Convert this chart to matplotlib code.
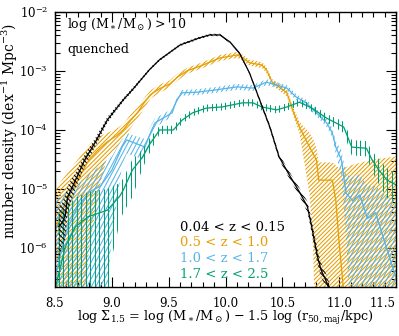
import numpy as np
import matplotlib
matplotlib.use('Agg')
import matplotlib.pyplot as plt
from matplotlib.collections import LineCollection
from matplotlib.ticker import LogLocator, NullFormatter, MultipleLocator

plt.rcParams['font.family'] = ['DejaVu Serif']
plt.rcParams['mathtext.fontset'] = 'dejavuserif'

# ---------------- data (log10 number density) ----------------
labels = ['0.04 < z < 0.15', '0.5 < z < 1.0', '1.0 < z < 1.7', '1.7 < z < 2.5']
colors = ['black', '#E69F00', '#56B4E9', '#009E73']
xtick_vals = [8.5, 9.0, 9.5, 10.0, 10.5, 11.0, 11.5]
xtick_labels = ['8.5', '9.0', '9.5', '10.0', '10.5', '11.0', '11.5']

# 0.04 < z < 0.15
x_k = [8.53, 8.56, 8.59, 8.61, 8.68, 8.76, 8.85, 8.96, 9.10, 9.18, 9.33, 9.42, 9.60, 9.77,
       9.86, 9.95, 10.04, 10.12, 10.21, 10.30, 10.39, 10.47, 10.56, 10.65, 10.72, 10.75,
       10.78, 10.81, 10.84, 10.89, 10.92]
c_k = [-5.64, -5.58, -5.45, -5.14, -4.85, -4.51, -4.22, -3.83, -3.49, -3.32, -2.98, -2.81, -2.56, -2.44,
       -2.39, -2.39, -2.51, -2.69, -3.03, -3.49, -3.95, -4.45, -4.76, -5.05, -5.30, -5.56,
       -5.86, -6.15, -6.37, -6.58, -6.75]
hi_k = [-5.30, -5.25, -5.10, -4.95, -4.72, -4.42, -4.15, -3.78, -3.46, -3.29, -2.96, -2.79, -2.54, -2.42,
        -2.37, -2.37, -2.49, -2.67, -3.01, -3.46, -3.91, -4.40, -4.70, -4.98, -5.21, -5.45,
        -5.74, -6.02, -6.25, -6.46, -6.63]
lo_k = [-6.20, -6.00, -5.85, -5.40, -5.00, -4.62, -4.30, -3.88, -3.52, -3.35, -3.00, -2.83, -2.58, -2.46,
        -2.41, -2.41, -2.53, -2.71, -3.05, -3.52, -3.99, -4.50, -4.82, -5.12, -5.39, -5.67,
        -5.98, -6.28, -6.49, -6.70, -6.87]

# 0.5 < z < 1.0
x_o = [8.50, 8.60, 8.70, 8.80, 8.90, 8.96, 9.04, 9.10, 9.16, 9.22, 9.28, 9.34, 9.42, 9.51, 9.58,
       9.66, 9.80, 9.95, 10.10, 10.14, 10.21, 10.32, 10.36, 10.41, 10.47, 10.54, 10.59, 10.65,
       10.74, 10.77, 10.80, 10.82, 10.94, 10.97, 11.00, 11.03, 11.10, 11.30, 11.50]
c_o = [-5.70, -5.20, -4.85, -4.50, -4.30, -4.20, -4.10, -4.00, -3.85, -3.72, -3.55, -3.40, -3.30, -3.22, -3.10,
       -3.00, -2.90, -2.78, -2.73, -2.76, -2.86, -2.90, -2.98, -3.19, -3.27, -3.37, -3.66, -3.95,
       -4.29, -4.40, -4.51, -4.85, -4.85, -5.19, -5.92, -6.54, -8.0, -8.0, -8.0]
hi_o = [-5.00, -4.75, -4.50, -4.25, -4.10, -4.05, -3.98, -3.90, -3.75, -3.63, -3.47, -3.33, -3.23, -3.16, -3.04,
        -2.95, -2.85, -2.73, -2.68, -2.71, -2.81, -2.85, -2.93, -3.14, -3.21, -3.31, -3.59, -3.86,
        -4.05, -4.15, -4.30, -4.55, -4.55, -4.60, -4.65, -4.65, -4.60, -4.50, -4.45]
lo_o = [-8.0, -8.0, -8.0, -6.00, -4.90, -4.45, -4.30, -4.15, -3.98, -3.82, -3.65, -3.47, -3.37, -3.28, -3.16,
        -3.05, -2.95, -2.83, -2.78, -2.81, -2.91, -2.95, -3.03, -3.24, -3.33, -3.43, -3.73, -4.05,
        -5.10, -6.00, -8.0, -8.0, -8.0, -8.0, -8.0, -8.0, -8.0, -8.0, -8.0]

# 1.0 < z < 1.7
x_b = [8.50, 8.60, 8.70, 8.80, 8.90, 9.00, 9.09, 9.13, 9.20, 9.29, 9.35, 9.38, 9.44, 9.53, 9.57,
       9.62, 9.75, 9.92, 10.10, 10.24, 10.36, 10.45, 10.54, 10.62, 10.71, 10.80, 10.89, 10.94,
       10.97, 11.02, 11.06, 11.12, 11.18, 11.25, 11.32, 11.40, 11.50]
c_b = [-6.50, -5.70, -5.30, -5.05, -4.95, -4.68, -4.29, -4.17, -4.22, -4.29, -4.00, -3.88, -3.81, -3.71, -3.49,
       -3.37, -3.36, -3.32, -3.27, -3.29, -3.19, -3.24, -3.29, -3.44, -3.54, -3.71, -3.88, -4.05,
       -4.29, -4.51, -5.07, -5.20, -5.10, -5.50, -5.40, -5.90, -6.50]
hi_b = [-5.20, -5.05, -4.92, -4.75, -4.60, -4.45, -4.15, -4.05, -4.10, -4.15, -3.90, -3.80, -3.74, -3.64, -3.43,
        -3.32, -3.31, -3.27, -3.22, -3.24, -3.14, -3.19, -3.24, -3.39, -3.49, -3.65, -3.81, -3.97,
        -4.19, -4.35, -4.75, -4.80, -4.75, -4.95, -4.95, -5.10, -5.20]
lo_b = [-8.0, -8.0, -8.0, -8.0, -8.0, -5.80, -4.60, -4.40, -4.45, -4.50, -4.15, -3.96, -3.88, -3.78, -3.55,
        -3.42, -3.41, -3.37, -3.32, -3.34, -3.24, -3.29, -3.34, -3.49, -3.59, -3.77, -3.95, -4.13,
        -4.40, -4.80, -5.80, -8.0, -6.50, -8.0, -8.0, -8.0, -8.0]

# 1.7 < z < 2.5
x_g = [8.50, 8.59, 8.68, 8.79, 8.96, 9.01, 9.07, 9.10, 9.18, 9.27, 9.33, 9.42, 9.54, 9.62, 9.71,
       9.83, 9.97, 10.15, 10.24, 10.32, 10.45, 10.54, 10.65, 10.76, 10.89, 11.04, 11.11, 11.24,
       11.29, 11.35, 11.42, 11.50]
c_g = [-6.70, -5.98, -5.64, -5.47, -5.36, -5.25, -5.12, -5.02, -4.68, -4.46, -4.25, -4.00, -4.00, -3.83, -3.71,
       -3.63, -3.61, -3.54, -3.54, -3.61, -3.66, -3.61, -3.53, -3.63, -3.80, -3.95, -4.29, -4.31,
       -4.51, -4.68, -4.85, -4.93]
hi_g = [-5.55, -5.30, -5.15, -5.05, -5.00, -4.95, -4.90, -4.82, -4.50, -4.33, -4.15, -3.93, -3.93, -3.77, -3.65,
        -3.57, -3.55, -3.48, -3.48, -3.55, -3.60, -3.55, -3.47, -3.57, -3.73, -3.86, -4.17, -4.19,
        -4.36, -4.50, -4.65, -4.73]
lo_g = [-8.0, -8.0, -8.0, -8.0, -8.0, -6.07, -5.56, -5.40, -5.14, -4.65, -4.40, -4.07, -4.07, -3.89, -3.77,
        -3.69, -3.67, -3.60, -3.60, -3.67, -3.72, -3.67, -3.59, -3.69, -3.87, -4.05, -4.43, -4.45,
        -4.70, -4.92, -5.15, -5.25]

# ---------------- figure ----------------
W_IN, H_IN, DPI = 3.99, 3.36, 100
AX_POS = [0.138, 0.146, 0.8545, 0.8185]
fig = plt.figure(figsize=(W_IN, H_IN), dpi=DPI)
ax = fig.add_axes(AX_POS)
ax.set_yscale('log')

AX_W = W_IN * DPI * AX_POS[2]
AX_H = H_IN * DPI * AX_POS[3]


def hatch_band(x, lo, hi, color, angle, spacing, lw=0.75):
    band = ax.fill_between(np.asarray(x), 10.0 ** np.asarray(lo), 10.0 ** np.asarray(hi),
                           facecolor='none', edgecolor='none', linewidth=0)
    a = np.deg2rad(angle)
    d = np.array([np.cos(a), np.sin(a)])
    n = np.array([-np.sin(a), np.cos(a)])
    corners = np.array([[0, 0], [AX_W, 0], [0, AX_H], [AX_W, AX_H]])
    proj = corners @ n
    L = AX_W + AX_H
    segs = []
    for off in np.arange(proj.min() - spacing, proj.max() + spacing, spacing):
        p = off * n
        p0 = p - L * d
        p1 = p + L * d
        segs.append([(p0[0] / AX_W, p0[1] / AX_H), (p1[0] / AX_W, p1[1] / AX_H)])
    lc = LineCollection(segs, colors=color, linewidths=lw, transform=ax.transAxes)
    lc.set_clip_path(band.get_paths()[0], ax.transData)
    ax.add_collection(lc, autolim=False)
    lc.set_clip_box(ax.bbox)


series = [
    (x_o, c_o, lo_o, hi_o, colors[1], 45, 3.0),
    (x_b, c_b, lo_b, hi_b, colors[2], 62, 3.9),
    (x_g, c_g, lo_g, hi_g, colors[3], 90, 4.5),
    (x_k, c_k, lo_k, hi_k, colors[0], 135, 3.5),
]
for x, c, lo, hi, col, ang, sp in series:
    hatch_band(x, lo, hi, col, ang, sp)
    ax.plot(x, 10.0 ** np.asarray(c), color=col, lw=0.9)

ax.set_xlim(8.5, 11.5)
ax.set_ylim(10 ** -6.66, 1e-2)

ax.set_xticks(xtick_vals, xtick_labels)
ax.xaxis.set_minor_locator(MultipleLocator(0.1))
ax.yaxis.set_major_locator(LogLocator(base=10, numticks=20))
ax.yaxis.set_minor_locator(LogLocator(base=10, subs=np.arange(2, 10), numticks=20))
ax.yaxis.set_minor_formatter(NullFormatter())
ax.tick_params(which='both', direction='in', top=True, right=True, labelsize=8.5, width=0.8)
ax.tick_params(which='major', length=7, pad=5)
ax.tick_params(axis='x', which='major', pad=7)
ax.tick_params(which='minor', length=3.5)
for s in ax.spines.values():
    s.set_linewidth(1.0)

for t in ax.get_xticklabels():
    if t.get_text() == '11.5':
        t.set_horizontalalignment('right')

ax.text(0.035, 0.953, r'log (M$_\ast$/M$_\odot$) > 10', transform=ax.transAxes,
        fontsize=9, va='center', ha='left')
ax.text(0.035, 0.865, 'quenched', transform=ax.transAxes, fontsize=9, va='center', ha='left')

leg_y = [0.215, 0.16, 0.102, 0.044]
for lab, col, yy in zip(labels, colors, leg_y):
    ax.text(0.367, yy, lab, transform=ax.transAxes, color=col, fontsize=9.5, va='center', ha='left')

fig.text(10 / 399, 1 - 131 / 336, r'number density (dex$^{-1}$ Mpc$^{-3}$)', rotation=90,
         ha='center', va='center', fontsize=10)
fig.text(225 / 399, 1 - 318 / 336,
         r'log $\Sigma_{1.5}$ = log (M$_\ast$/M$_\odot$) $-$ 1.5 log (r$_{\rm 50,maj}$/kpc)',
         ha='center', va='center', fontsize=9.2)

fig.savefig('out.png', dpi=DPI)
